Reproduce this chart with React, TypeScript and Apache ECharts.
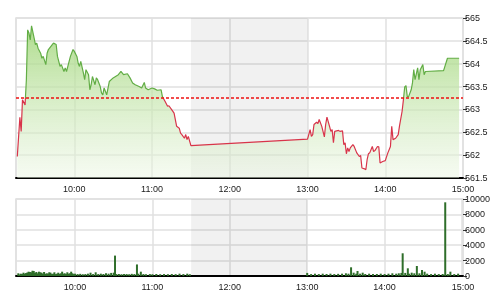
import { useEffect, useRef } from 'react';
import * as echarts from 'echarts';

const prevClose = 563.26;
const priceMin = 561.5;
const priceMax = 565;
const priceStep = 0.5;
const volumeMax = 10000;
const volumeStep = 2000;
const sessionStart = '09:15';
const sessionEnd = '15:00';
const lunchBreak: [string, string] = ['11:30', '13:00'];

const morningPrices: [string, number][] = [
  ['09:16', 561.97], ['09:18', 562.83], ['09:19', 562.52], ['09:20', 563.21], ['09:22', 563.1],
  ['09:23', 563.65], ['09:24', 564.74], ['09:25', 564.67], ['09:26', 564.52], ['09:27', 564.83],
  ['09:29', 564.56], ['09:30', 564.42], ['09:31', 564.45], ['09:32', 564.34], ['09:34', 564.23],
  ['09:35', 564.12], ['09:36', 564.16], ['09:38', 563.98], ['09:39', 564.23], ['09:40', 564.31],
  ['09:43', 564.42], ['09:44', 564.45], ['09:46', 564.42], ['09:47', 564.16], ['09:49', 563.94],
  ['09:50', 563.98], ['09:52', 563.83], ['09:53', 563.91], ['09:54', 563.83], ['09:55', 563.94],
  ['09:57', 564.16], ['09:59', 564.31], ['10:00', 564.27], ['10:02', 564.16], ['10:03', 564.01],
  ['10:04', 563.94], ['10:05', 564.05], ['10:07', 563.8], ['10:08', 563.65], ['10:09', 563.87],
  ['10:11', 563.76], ['10:12', 563.43], ['10:13', 563.54], ['10:14', 563.72], ['10:16', 563.54],
  ['10:17', 563.69], ['10:18', 563.65], ['10:20', 563.5], ['10:21', 563.36], ['10:22', 563.32],
  ['10:23', 563.47], ['10:25', 563.32], ['10:27', 563.61], ['10:30', 563.69], ['10:34', 563.76],
  ['10:36', 563.83], ['10:38', 563.76], ['10:41', 563.78], ['10:43', 563.69], ['10:45', 563.58],
  ['10:47', 563.54], ['10:50', 563.5], ['10:52', 563.47], ['10:54', 563.59], ['10:55', 563.47],
  ['10:57', 563.43], ['11:00', 563.47], ['11:02', 563.45], ['11:04', 563.42], ['11:07', 563.43],
  ['11:08', 563.28], ['11:10', 563.18], ['11:12', 563.07], ['11:13', 563.08], ['11:15', 563.0],
  ['11:17', 562.92], ['11:19', 562.63], ['11:21', 562.59], ['11:22', 562.48], ['11:23', 562.45],
  ['11:25', 562.37], ['11:26', 562.45], ['11:27', 562.34], ['11:28', 562.41], ['11:30', 562.21],
];

const afternoonPrices: [string, number][] = [
  ['13:00', 562.35], ['13:02', 562.56], ['13:03', 562.41], ['13:04', 562.45], ['13:05', 562.67],
  ['13:07', 562.72], ['13:08', 562.69], ['13:09', 562.78], ['13:11', 562.63], ['13:13', 562.4],
  ['13:14', 562.67], ['13:15', 562.83], ['13:17', 562.63], ['13:18', 562.52], ['13:19', 562.56],
  ['13:20', 562.27], ['13:21', 562.52], ['13:24', 562.54], ['13:25', 562.52], ['13:27', 562.53],
  ['13:28', 562.23], ['13:29', 562.27], ['13:30', 562.03], ['13:31', 562.16], ['13:32', 562.08],
  ['13:33', 562.16], ['13:35', 562.23], ['13:36', 562.19], ['13:38', 562.05], ['13:40', 561.97],
  ['13:41', 561.99], ['13:42', 561.72], ['13:44', 561.7], ['13:45', 561.68], ['13:46', 561.9],
  ['13:47', 562.03], ['13:48', 562.05], ['13:50', 562.19], ['13:51', 562.08], ['13:52', 562.1],
  ['13:54', 562.19], ['13:55', 562.18], ['13:56', 561.83], ['13:58', 561.86], ['14:00', 561.88],
  ['14:02', 562.05], ['14:04', 562.19], ['14:05', 562.63], ['14:06', 562.34], ['14:08', 562.37],
  ['14:10', 562.45], ['14:11', 562.64], ['14:13', 562.96], ['14:14', 563.21], ['14:15', 563.49],
  ['14:16', 563.52], ['14:17', 563.28], ['14:18', 563.28], ['14:20', 563.43], ['14:21', 563.58],
  ['14:22', 563.87], ['14:23', 563.65], ['14:25', 563.91], ['14:26', 563.65], ['14:27', 563.87],
  ['14:29', 563.98], ['14:30', 563.76], ['14:31', 563.83], ['14:45', 563.85], ['14:48', 564.12],
  ['14:57', 564.12],
];

const morningVolumes: [string, number][] = [
  ['09:16', 350], ['09:17', 200], ['09:18', 300], ['09:19', 250], ['09:20', 430], ['09:21', 300],
  ['09:22', 380], ['09:23', 450], ['09:24', 560], ['09:25', 520], ['09:26', 480], ['09:27', 690],
  ['09:28', 650], ['09:29', 400], ['09:30', 520], ['09:31', 350], ['09:32', 560], ['09:33', 480],
  ['09:34', 430], ['09:35', 300], ['09:36', 520], ['09:37', 280], ['09:38', 350], ['09:39', 300],
  ['09:40', 480], ['09:41', 430], ['09:42', 250], ['09:43', 300], ['09:44', 480], ['09:45', 250],
  ['09:46', 300], ['09:47', 430], ['09:48', 280], ['09:49', 350], ['09:50', 560], ['09:51', 300],
  ['09:52', 350], ['09:53', 250], ['09:54', 480], ['09:55', 300], ['09:56', 350], ['09:57', 560],
  ['09:58', 350], ['09:59', 250], ['10:00', 300], ['10:02', 250], ['10:04', 280], ['10:06', 230],
  ['10:08', 250], ['10:10', 300], ['10:12', 430], ['10:14', 250], ['10:16', 480], ['10:18', 250],
  ['10:20', 300], ['10:22', 260], ['10:24', 350], ['10:26', 300], ['10:28', 400], ['10:30', 430],
  ['10:31', 2650], ['10:32', 250], ['10:34', 260], ['10:36', 230], ['10:38', 260], ['10:40', 250],
  ['10:42', 230], ['10:44', 280], ['10:46', 250], ['10:48', 1500], ['10:49', 300], ['10:51', 560],
  ['10:53', 250], ['10:55', 230], ['10:58', 250], ['11:00', 230], ['11:03', 260], ['11:06', 230],
  ['11:09', 250], ['11:12', 230], ['11:15', 260], ['11:18', 240], ['11:21', 300], ['11:24', 250],
  ['11:27', 300], ['11:29', 230],
];

const afternoonVolumes: [string, number][] = [
  ['13:00', 400], ['13:03', 250], ['13:06', 300], ['13:09', 250], ['13:12', 300], ['13:15', 260],
  ['13:18', 300], ['13:21', 250], ['13:24', 280], ['13:27', 300], ['13:30', 350], ['13:32', 300],
  ['13:34', 1130], ['13:36', 430], ['13:38', 300], ['13:39', 650], ['13:41', 300], ['13:43', 430],
  ['13:45', 260], ['13:48', 300], ['13:51', 250], ['13:54', 260], ['13:57', 300], ['14:00', 250],
  ['14:03', 300], ['14:06', 350], ['14:09', 300], ['14:11', 350], ['14:13', 400], ['14:14', 2950],
  ['14:16', 400], ['14:18', 1000], ['14:19', 300], ['14:21', 430], ['14:23', 350], ['14:25', 1300],
  ['14:27', 350], ['14:29', 780], ['14:31', 560], ['14:33', 300], ['14:36', 250], ['14:39', 300],
  ['14:42', 250], ['14:45', 260], ['14:47', 9570], ['14:49', 250], ['14:51', 560], ['14:54', 250],
  ['14:57', 300],
];

const toTs = (hhmm: string) => {
  const [h, m] = hhmm.split(':').map(Number);
  return new Date(2024, 0, 2, h, m).getTime();
};
const pad = (n: number) => (n < 10 ? '0' + n : '' + n);
const fmtTime = (v: number) => {
  const d = new Date(v);
  return pad(d.getHours()) + ':' + pad(d.getMinutes());
};

const FONT = 'Liberation Sans';
const GRID_COLOR = '#e0e0e0';

export default function App() {
  const ref = useRef<HTMLDivElement>(null);
  useEffect(() => {
    if (!ref.current) return;
    const chart = echarts.init(ref.current, undefined, { renderer: 'svg' });
    const priceData = [...morningPrices, ...afternoonPrices].map(([t, v]) => [toTs(t), v]);
    const volumeData = [...morningVolumes, ...afternoonVolumes].map(([t, v]) => [toTs(t), v]);
    const xMin = toTs(sessionStart);
    const xMax = toTs(sessionEnd);
    const shade = [[{ xAxis: toTs(lunchBreak[0]) }, { xAxis: toTs(lunchBreak[1]) }]];

    const xAxisBase = (gridIndex: number) => ({
      type: 'time',
      gridIndex,
      min: xMin,
      max: xMax,
      splitNumber: 6,
      axisLine: { show: true, onZero: false, lineStyle: { color: '#000', width: 2 } },
      axisTick: { show: false },
      axisLabel: {
        formatter: (v: number) => fmtTime(v),
        color: '#1a1a1a',
        fontSize: 9,
        fontFamily: FONT,
        margin: 6,
        showMaxLabel: true,
        hideOverlap: false,
      },
      splitLine: { show: true, lineStyle: { color: GRID_COLOR, width: 1.5 } },
    });
    const yAxisBase = (gridIndex: number) => ({
      type: 'value',
      gridIndex,
      position: 'right',
      axisLine: { show: false },
      axisTick: { show: true, length: 4, lineStyle: { color: '#333' } },
      axisLabel: {
        color: '#1a1a1a',
        fontSize: 9,
        fontFamily: FONT,
        margin: 2,
        formatter: (v: number) => String(v),
      },
      splitLine: { show: true, lineStyle: { color: GRID_COLOR, width: 1.5 } },
    });

    chart.setOption({
      animation: false,
      grid: [
        { left: 16, top: 18, width: 447, height: 160, show: true, borderColor: GRID_COLOR, borderWidth: 1.5 },
        { left: 16, top: 199, width: 447, height: 77, show: true, borderColor: GRID_COLOR, borderWidth: 1.5 },
      ],
      xAxis: [xAxisBase(0), xAxisBase(1)],
      yAxis: [
        { ...yAxisBase(0), min: priceMin, max: priceMax, interval: priceStep },
        { ...yAxisBase(1), min: 0, max: volumeMax, interval: volumeStep },
      ],
      visualMap: {
        show: false,
        type: 'piecewise',
        seriesIndex: 0,
        dimension: 1,
        pieces: [
          { gt: prevClose, lte: 10000, color: '#62ad45' },
          { gte: 0, lte: prevClose, color: '#d8344a' },
        ],
      },
      series: [
        {
          type: 'line',
          xAxisIndex: 0,
          yAxisIndex: 0,
          data: priceData,
          showSymbol: false,
          lineStyle: { width: 1.2 },
          areaStyle: {
            opacity: 1,
            color: {
              type: 'linear', x: 0, y: 0, x2: 0, y2: 1,
              colorStops: [
                { offset: 0, color: 'rgba(160,214,120,0.85)' },
                { offset: 1, color: 'rgba(236,246,228,0.5)' },
              ],
            },
          },
          markArea: { silent: true, itemStyle: { color: 'rgba(0,0,0,0.055)' }, data: shade },
          markLine: {
            silent: true,
            symbol: 'none',
            label: { show: false },
            lineStyle: { color: '#ee1111', type: [3, 2], width: 1.5 },
            data: [{ yAxis: prevClose }],
          },
          z: 3,
        },
        {
          type: 'bar',
          xAxisIndex: 1,
          yAxisIndex: 1,
          data: volumeData,
          barWidth: 2,
          itemStyle: { color: '#2f6e2a' },
          markArea: { silent: true, itemStyle: { color: 'rgba(0,0,0,0.055)' }, data: shade },
        },
      ],
    });
    return () => chart.dispose();
  }, []);
  return <div ref={ref} style={{ position: 'fixed', left: 0, top: 0, width: 500, height: 300 }} />;
}
